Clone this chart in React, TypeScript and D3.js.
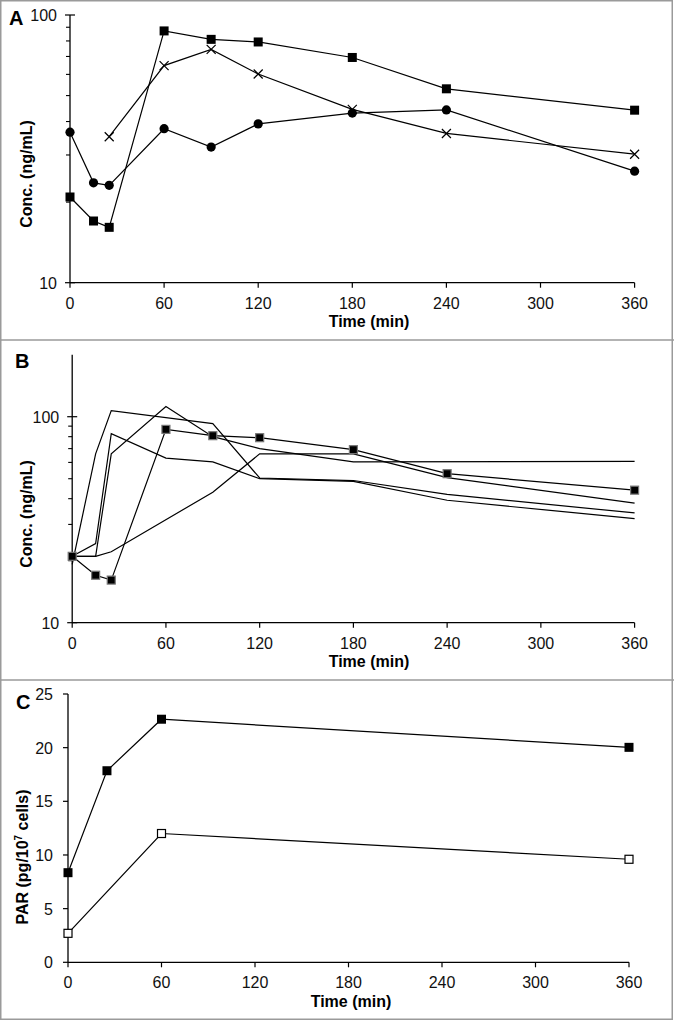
import React from "react";
import * as d3 from "d3";

// sampling times (min)
const times = [0, 15, 25, 60, 90, 120, 180, 240, 360];
const xTicks = [0, 60, 120, 180, 240, 300, 360];

// panel A
const aSquares = [20.9, 17.0, 16.1, 87.2, 81.1, 79.3, 69.4, 53.0, 44.1];
const aCircles = [36.5, 23.6, 23.1, 37.6, 32.1, 39.2, 43.0, 44.2, 26.1];
const aCrossTimes = [25, 60, 90, 120, 180, 240, 360];
const aCrosses = [35.1, 64.7, 74.4, 60.2, 44.4, 36.1, 30.2];

// panel B: measured (squares) + four simulated curves
const bMeasured = [21.0, 17.0, 16.1, 86.8, 80.9, 79.1, 69.2, 52.9, 44.0];
const b1Times = [0, 15, 25, 90, 120, 180, 240, 360];
const b1 = [19.2, 66, 107, 92.5, 50.4, 49, 42, 34.1];
const b2Times = [0, 15, 25, 60, 90, 120, 180, 240, 360];
const b2 = [21, 24.2, 82.7, 63, 60.3, 50, 48.5, 39.3, 32];
const b3Times = [0, 15, 25, 60, 90, 120, 180, 360];
const b3 = [21, 21, 66, 112, 80, 70, 60.3, 60.7];
const b4Times = [0, 15, 25, 90, 120, 180, 240, 360];
const b4 = [21, 21, 22.1, 43, 66, 66, 50.6, 38.1];

// panel C
const cFilledTimes = [0, 25, 60, 360];
const cFilled = [8.35, 17.85, 22.65, 20.03];
const cOpenTimes = [0, 60, 360];
const cOpen = [2.7, 12.0, 9.6];
const cTicks = [0, 5, 10, 15, 20, 25];

const font = "'Liberation Sans', Arial, sans-serif";
const W = 674;
const H = 1020;

type Pt = [number, number];
const zip = (t: number[], v: number[]): Pt[] => t.map((d, i) => [d, v[i]]);

const Square = ({ x, y, s = 8, fill = "#000", stroke = "none" }: any) => (
  <rect x={x - s / 2} y={y - s / 2} width={s} height={s} fill={fill} stroke={stroke} strokeWidth={1.2} />
);

const Cross = ({ x, y }: any) => (
  <path d={`M${x - 4.5},${y - 4.5}L${x + 4.5},${y + 4.5}M${x - 4.5},${y + 4.5}L${x + 4.5},${y - 4.5}`} stroke="#000" strokeWidth={1.2} />
);

const XAxis = ({ x, y0 }: any) => (
  <g>
    <line x1={x(0)} x2={x(360)} y1={y0} y2={y0} stroke="#000" strokeWidth={1.3} />
    {xTicks.map((t) => (
      <g key={t}>
        <line x1={x(t)} x2={x(t)} y1={y0} y2={y0 + 5} stroke="#000" strokeWidth={1.2} />
        <text x={x(t)} y={y0 + 26} textAnchor="middle" fontSize={16} fontFamily={font} fill="#111">{t}</text>
      </g>
    ))}
  </g>
);

const LogYAxis = ({ y, x0, top, max }: any) => {
  const minors: number[] = [];
  [10, 100].forEach((dec) => {
    for (let k = 2; k <= 9; k++) if (dec * k <= max && dec * k < 100) minors.push(dec * k);
  });
  return (
    <g>
      <line x1={x0} x2={x0} y1={top} y2={y(10)} stroke="#000" strokeWidth={1.3} />
      {minors.map((v) => (
        <line key={v} x1={x0 - 4} x2={x0} y1={y(v)} y2={y(v)} stroke="#000" strokeWidth={1.1} />
      ))}
      {[10, 100].map((v) => (
        <g key={v}>
          <line x1={x0 - 5} x2={x0 + 5} y1={y(v)} y2={y(v)} stroke="#000" strokeWidth={1.2} />
          <text x={x0 - 13} y={y(v) + 6} textAnchor="end" fontSize={16} fontFamily={font} fill="#111">{v}</text>
        </g>
      ))}
    </g>
  );
};

const Title = ({ x, y, children, rotate = false, size = 16 }: any) => (
  <text
    x={x}
    y={y}
    transform={rotate ? `rotate(-90,${x},${y})` : undefined}
    textAnchor="middle"
    fontSize={size}
    fontWeight="bold"
    fontFamily={font}
    fill="#000"
  >
    {children}
  </text>
);

export default function App() {
  // panel A scales
  const xA = d3.scaleLinear().domain([0, 360]).range([70, 634.6]);
  const yA = d3.scaleLog().domain([10, 100]).range([282.7, 15]);
  // panel B
  const xB = d3.scaleLinear().domain([0, 360]).range([72.2, 634.6]);
  const yB = d3.scaleLog().domain([10, 200]).range([622.7, 354.7]);
  // panel C
  const xC = d3.scaleLinear().domain([0, 360]).range([68, 629]);
  const yC = d3.scaleLinear().domain([0, 25]).range([962.3, 694]);

  const lineA = d3.line<Pt>().x((d) => xA(d[0])).y((d) => yA(d[1]));
  const lineB = d3.line<Pt>().x((d) => xB(d[0])).y((d) => yB(d[1]));
  const lineC = d3.line<Pt>().x((d) => xC(d[0])).y((d) => yC(d[1]));

  const aSq = zip(times, aSquares);
  const aCi = zip(times, aCircles);
  const aCr = zip(aCrossTimes, aCrosses);
  const bM = zip(times, bMeasured);
  const bSims = [zip(b1Times, b1), zip(b2Times, b2), zip(b3Times, b3), zip(b4Times, b4)];
  const cF = zip(cFilledTimes, cFilled);
  const cO = zip(cOpenTimes, cOpen);

  const frame = "#9a9a9a";

  return (
    <div style={{ position: "absolute", left: 0, top: 0 }}>
      <svg width={W} height={H} style={{ display: "block", background: "#fff" }}>
        {/* panel frames */}
        <rect x={0.75} y={0.75} width={W - 2.5} height={H - 1.5} fill="none" stroke={frame} strokeWidth={1.5} />
        <line x1={0} x2={W} y1={340} y2={340} stroke={frame} strokeWidth={1.5} />
        <line x1={0} x2={W} y1={680} y2={680} stroke={frame} strokeWidth={1.5} />

        {/* ---------- A ---------- */}
        <text x={9} y={25} fontSize={20} fontWeight="bold" fontFamily={font}>A</text>
        <LogYAxis y={yA} x0={70} top={15} max={100} />
        <XAxis x={xA} y0={282.7} />
        <Title x={369} y={327}>Time (min)</Title>
        <Title x={32} y={174} rotate>Conc. (ng/mL)</Title>
        {[aSq, aCi, aCr].map((s, i) => (
          <path key={i} d={lineA(s) || ""} fill="none" stroke="#000" strokeWidth={1.2} />
        ))}
        {aSq.map((d, i) => <Square key={"s" + i} x={xA(d[0])} y={yA(d[1])} s={9} />)}
        {aCi.map((d, i) => <circle key={"c" + i} cx={xA(d[0])} cy={yA(d[1])} r={4.6} fill="#000" />)}
        {aCr.map((d, i) => <Cross key={"x" + i} x={xA(d[0])} y={yA(d[1])} />)}

        {/* ---------- B ---------- */}
        <text x={15} y={368} fontSize={20} fontWeight="bold" fontFamily={font}>B</text>
        <LogYAxis y={yB} x0={72.2} top={354.7} max={200} />
        <XAxis x={xB} y0={622.7} />
        <Title x={369} y={667}>Time (min)</Title>
        <Title x={32} y={514} rotate>Conc. (ng/mL)</Title>
        {bSims.map((s, i) => (
          <path key={i} d={lineB(s) || ""} fill="none" stroke="#000" strokeWidth={1.2} />
        ))}
        <path d={lineB(bM) || ""} fill="none" stroke="#000" strokeWidth={1.2} />
        {bM.map((d, i) => <Square key={"b" + i} x={xB(d[0])} y={yB(d[1])} s={8} stroke="#777" />)}

        {/* ---------- C ---------- */}
        <text x={16} y={709} fontSize={20} fontWeight="bold" fontFamily={font}>C</text>
        <line x1={68} x2={68} y1={694} y2={yC(0)} stroke="#000" strokeWidth={1.3} />
        {cTicks.map((v) => (
          <g key={v}>
            <line x1={63} x2={68} y1={yC(v)} y2={yC(v)} stroke="#000" strokeWidth={1.2} />
            <text x={53} y={yC(v) + 6} textAnchor="end" fontSize={16} fontFamily={font} fill="#111">{v}</text>
          </g>
        ))}
        <XAxis x={xC} y0={962.3} />
        <Title x={351} y={1007}>Time (min)</Title>
        <text
          x={28}
          y={857}
          transform="rotate(-90,28,857)"
          textAnchor="middle"
          fontSize={16}
          fontWeight="bold"
          fontFamily={font}
        >
          PAR (pg/10<tspan fontSize={10} dy={-6}>7</tspan>
          <tspan dy={6}> cells)</tspan>
        </text>
        <path d={lineC(cF) || ""} fill="none" stroke="#000" strokeWidth={1.2} />
        <path d={lineC(cO) || ""} fill="none" stroke="#000" strokeWidth={1.2} />
        {cF.map((d, i) => <Square key={"f" + i} x={xC(d[0])} y={yC(d[1])} s={9} />)}
        {cO.map((d, i) => <Square key={"o" + i} x={xC(d[0])} y={yC(d[1])} s={8} fill="#fff" stroke="#000" />)}
      </svg>
    </div>
  );
}
